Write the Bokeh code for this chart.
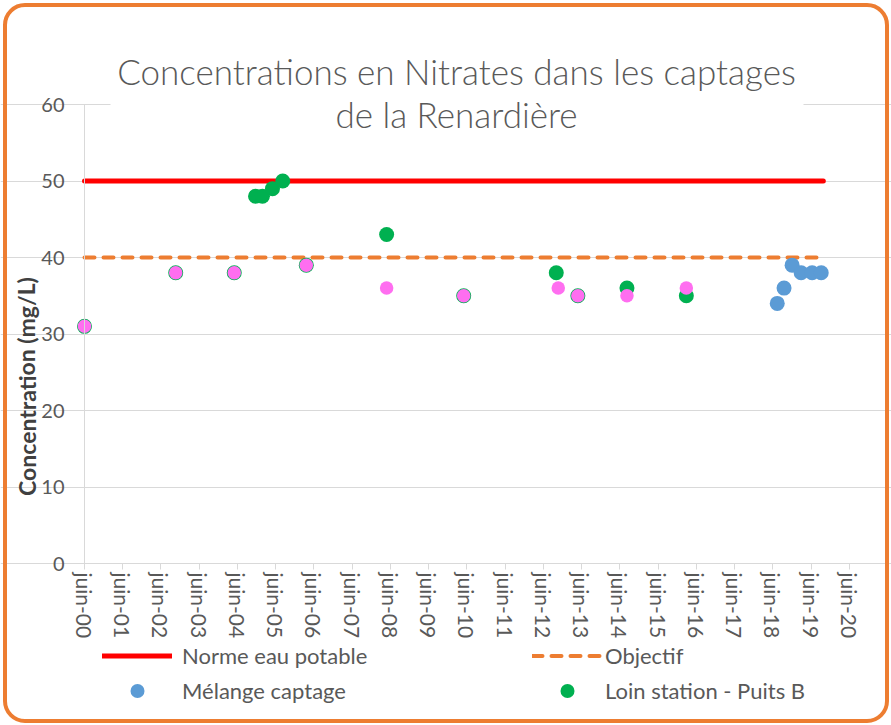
from datetime import datetime
import pandas as pd
from bokeh.plotting import figure
from bokeh.models import (ColumnDataSource, Range1d, FixedTicker, DatetimeTickFormatter,
                          DatetimeAxis, LinearAxis, Grid, Label, Legend, LegendItem,
                          BoxAnnotation)
from bokeh.embed import file_html
from bokeh.resources import INLINE

# ---------------- data ----------------
title_lines = ["Concentrations en Nitrates dans les captages", "de la Renardière"]
y_label = "Concentration (mg/L)"
tick_years = list(range(2000, 2021))
y_ticks = [0, 10, 20, 30, 40, 50, 60]

norme_dates = ["2000-06-01", "2019-09-25"]
norme_values = [50, 50]
objectif_dates = ["2000-06-01", "2019-09-25"]
objectif_values = [40, 40]

melange_dates = ["2018-07-12", "2018-09-15", "2018-12-01", "2019-02-25", "2019-06-10", "2019-09-05"]
melange_values = [34, 36, 39, 38, 38, 38]

loin_dates = ["2000-06-01", "2002-10-20", "2004-05-01", "2004-11-20", "2005-01-25",
              "2005-05-01", "2005-08-07", "2006-03-20", "2008-04-25", "2010-05-01",
              "2012-10-01", "2013-04-25", "2014-08-07", "2016-02-25"]
loin_values = [31, 38, 38, 48, 48, 49, 50, 39, 43, 35, 38, 35, 36, 35]

autre_dates = ["2000-06-01", "2002-10-20", "2004-05-01", "2006-03-20", "2008-04-25",
               "2010-05-01", "2012-10-20", "2013-04-25", "2014-08-07", "2016-02-25"]
autre_values = [31, 38, 38, 39, 36, 35, 36, 35, 35, 36]

# ---------------- layout (page pixels) ----------------
TXT = "#595959"
GRID = "#D9D9D9"
FONT = "Lato"
W, H = 891, 725           # canvas (Bokeh page has no body margin)
PL, PR, PT, PB = 84, 849, 104, 563   # plot area in page pixels

t00 = datetime(2000, 6, 1).timestamp() * 1000
t20 = datetime(2020, 6, 1).timestamp() * 1000
ppm = (PR - PL) / (t20 - t00)          # px per ms
ppu = (PB - PT) / 60.0                 # px per unit

def X(px):
    return t00 + (px - PL) / ppm

def Y(py):
    return (PB - py) / ppu

def src(d, v):
    return ColumnDataSource(dict(x=pd.to_datetime(d), y=v))

p = figure(output_backend="svg", toolbar_location=None,
           frame_width=W, frame_height=H, min_border=0,
           x_axis_location=None, y_axis_location=None,
           x_range=Range1d(X(0), X(W)),
           y_range=Range1d(Y(H), Y(0)))
p.outline_line_color = None
p.background_fill_color = "white"
p.border_fill_color = "white"
# drop any default grids
for g in list(p.xgrid) + list(p.ygrid):
    g.visible = False

# grid (horizontal only, bounded to the plot area)
p.add_layout(Grid(dimension=1, ticker=FixedTicker(ticks=y_ticks), bounds=(t00, t20),
                  grid_line_color=GRID, grid_line_width=1))

# axes at fixed locations
fmt = "juin-%y"
xaxis = DatetimeAxis(fixed_location=0, bounds=(t00, t20),
                     ticker=FixedTicker(ticks=[datetime(y, 6, 1).timestamp() * 1000 for y in tick_years]),
                     formatter=DatetimeTickFormatter(years=fmt, months=fmt, days=fmt, hours=fmt,
                                                     minutes=fmt, seconds=fmt, milliseconds=fmt,
                                                     microseconds=fmt, hourmin=fmt, minsec=fmt),
                     major_label_orientation="vertical",
                     major_tick_out=6, major_tick_in=0, minor_tick_line_color=None,
                     axis_line_color=GRID, major_tick_line_color=GRID,
                     major_label_text_font=FONT, major_label_text_font_size="21px",
                     major_label_text_color=TXT, major_label_standoff=3)
p.add_layout(xaxis, "below")

yaxis = LinearAxis(fixed_location=t00, bounds=(0, 60), ticker=FixedTicker(ticks=y_ticks),
                   major_tick_out=0, major_tick_in=0, minor_tick_line_color=None,
                   axis_line_color=GRID, major_label_text_font=FONT,
                   major_label_text_font_size="20px", major_label_text_color=TXT,
                   major_label_standoff=20)
p.add_layout(yaxis, "left")

# series
r_norme = p.line("x", "y", source=src(norme_dates, norme_values), line_color="#FF0000",
                 line_width=5, line_cap="round")
r_obj = p.line("x", "y", source=src(objectif_dates, objectif_values), line_color="#ED7D31",
               line_width=4, line_dash="10 9", line_cap="round")
r_mel = p.scatter("x", "y", source=src(melange_dates, melange_values), size=15,
                  fill_color="#5B9BD5", line_color=None)
r_loin = p.scatter("x", "y", source=src(loin_dates, loin_values), size=15,
                   fill_color="#00B050", line_color=None)
r_autre = p.scatter("x", "y", source=src(autre_dates, autre_values), size=13.5,
                    fill_color="#FF6EF0", line_color=None)

# title box (hides the top gridline behind the title) and title lines
p.add_layout(BoxAnnotation(left=X(110), right=X(803), bottom=Y(130), top=Y(45),
                           fill_color="white", fill_alpha=1, line_alpha=0))
for txt, py in zip(title_lines, [70, 113]):
    p.add_layout(Label(x=X(456), y=Y(py), text=txt, text_align="center", text_baseline="middle",
                       text_font="Lato Light", text_font_size="35px", text_color=TXT))

# y axis title
p.add_layout(Label(x=X(26), y=Y(386), text=y_label,
                   angle=1.5708, text_align="center", text_baseline="middle",
                   text_font=FONT, text_font_size="23px", text_font_style="bold",
                   text_color="#404040"))

# legends
def mk_legend(items, px, standoff):
    return Legend(items=items, location=(px, H - 708), orientation="vertical",
                  glyph_width=70, glyph_height=35, label_height=20, label_standoff=standoff,
                  spacing=-2, padding=0, margin=0, border_line_color=None,
                  background_fill_alpha=0, label_text_font=FONT,
                  label_text_font_size="22px", label_text_color=TXT)

p.add_layout(mk_legend([LegendItem(label="Norme eau potable", renderers=[r_norme]),
                        LegendItem(label="Mélange captage", renderers=[r_mel])], 102, 10))
p.add_layout(mk_legend([LegendItem(label="Objectif", renderers=[r_obj]),
                        LegendItem(label="Loin station - Puits B", renderers=[r_loin])], 532, 3))

# rounded orange frame around the whole chart
p.add_layout(BoxAnnotation(left=X(4.5), right=X(W - 4.5), bottom=Y(H - 4.5), top=Y(4.5),
                           fill_alpha=0, line_color="#ED7D31", line_alpha=1, line_width=4,
                           border_radius=20))

open("out.html", "w").write(file_html(p, INLINE))
